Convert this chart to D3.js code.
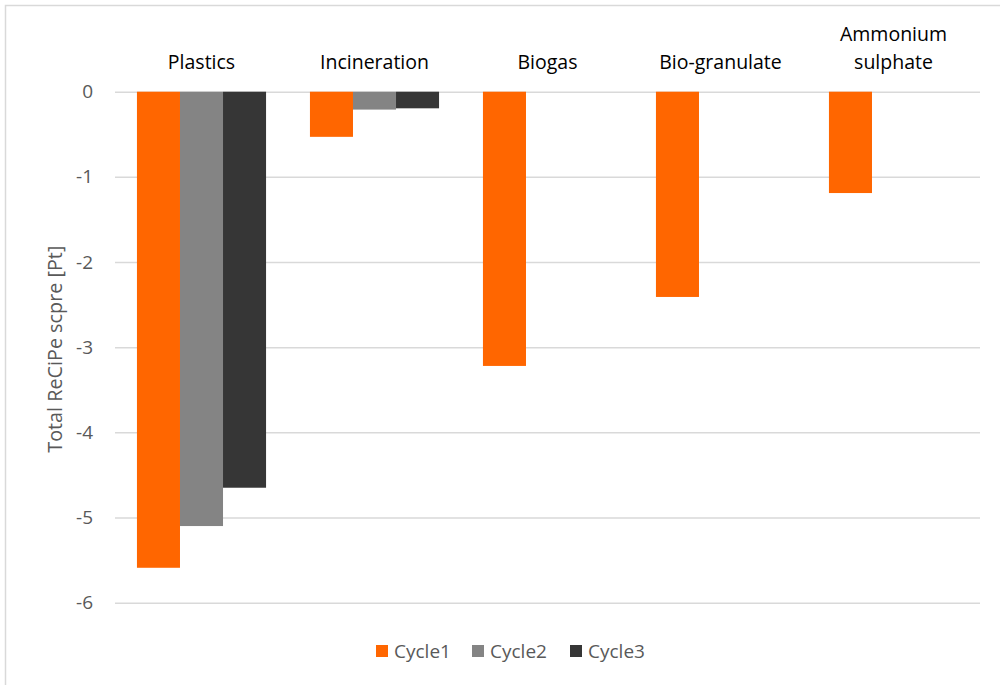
<!DOCTYPE html>
<html>
<head>
<meta charset="utf-8">
<script src="https://cdn.jsdelivr.net/npm/d3@7"></script>
<style>
  body { margin: 0; background: #fff; }
  svg { display: block; font-family: "Open Sans", sans-serif; }
</style>
</head>
<body>
<svg id="chart" width="1000" height="685"></svg>
<script>
const categories = ["Plastics", "Incineration", "Biogas", "Bio-granulate", "Ammonium sulphate"];
const seriesNames = ["Cycle1", "Cycle2", "Cycle3"];
const cycle1 = [-5.59, -0.53, -3.22, -2.41, -1.19];
const cycle2 = [-5.10, -0.21, null, null, null];
const cycle3 = [-4.65, -0.195, null, null, null];
const yTicks = [0, -1, -2, -3, -4, -5, -6];
const yTitle = "Total ReCiPe scpre [Pt]";

const seriesValues = [cycle1, cycle2, cycle3];
const colors = ["#FF6600", "#848484", "#363636"];

const svg = d3.select("#chart");
const W = 1000, H = 685;

// chart border
svg.append("rect").attr("x", 5.5).attr("y", 5.5).attr("width", W + 10).attr("height", H + 10)
  .attr("fill", "#fff").attr("stroke", "#D9D9D9").attr("stroke-width", 1.5);

const plot = { left: 115, right: 980, top: 91.7, bottom: 602.7 };

const x0 = d3.scaleBand().domain(categories).range([plot.left, plot.right]).paddingInner(0).paddingOuter(0);
const x1 = d3.scaleBand().domain(seriesNames).range([0, x0.bandwidth()]).paddingInner(0).paddingOuter(0.51);
const y = d3.scaleLinear().domain([-6, 0]).range([plot.bottom, plot.top]);

// gridlines + tick labels
const yAxis = d3.axisLeft(y).tickValues(yTicks).tickSize(-(plot.right - plot.left)).tickPadding(22)
  .tickFormat(d => String(d));
const gy = svg.append("g").attr("transform", `translate(${plot.left},0)`).call(yAxis);
gy.select(".domain").remove();
gy.selectAll(".tick line").attr("stroke", "#D9D9D9").attr("stroke-width", 1.5);
gy.selectAll(".tick text").attr("fill", "#595959").attr("font-size", 19)
  .attr("font-family", "Open Sans, sans-serif").attr("x", -22);

// bars
const rows = [];
seriesNames.forEach((s, si) => {
  categories.forEach((c, ci) => {
    const v = seriesValues[si][ci];
    if (v !== null && v !== undefined) rows.push({ s, si, c, v });
  });
});
svg.append("g").selectAll("rect").data(rows).join("rect")
  .attr("x", d => x0(d.c) + x1(d.s))
  .attr("width", x1.bandwidth())
  .attr("y", d => y(Math.max(0, d.v)))
  .attr("height", d => Math.abs(y(d.v) - y(0)))
  .attr("fill", d => colors[d.si]);

// category labels (top)
const catG = svg.append("g");
categories.forEach(c => {
  const t = catG.append("text")
    .attr("x", x0(c) + x0.bandwidth() / 2)
    .attr("text-anchor", "middle")
    .attr("font-size", 19.5)
    .attr("fill", "#000");
  const words = c.split(" ");
  t.text(c);
  if (t.node().getComputedTextLength() > 140 && words.length > 1) {
    t.text(null);
    words.forEach((w, i) => {
      t.append("tspan").attr("x", x0(c) + x0.bandwidth() / 2).attr("dy", i === 0 ? 0 : 27.5).text(w);
    });
    t.attr("y", 68.5 - 27.5 * (words.length - 1));
  } else {
    t.attr("y", 68.5);
  }
});

// y-axis title
svg.append("text")
  .attr("transform", `translate(62,${(plot.top + plot.bottom) / 2 + 2}) rotate(-90)`)
  .attr("text-anchor", "middle")
  .attr("font-size", 19.8)
  .attr("fill", "#595959")
  .text(yTitle);

// legend
const legend = svg.append("g");
const legX = [376, 472, 570];
seriesNames.forEach((s, i) => {
  const g = legend.append("g").attr("transform", `translate(${legX[i]},645)`);
  g.append("rect").attr("width", 12).attr("height", 12).attr("fill", colors[i]);
  g.append("text").attr("x", 18).attr("y", 13).attr("font-size", 19).attr("fill", "#595959").text(s);
});
</script>
</body>
</html>
